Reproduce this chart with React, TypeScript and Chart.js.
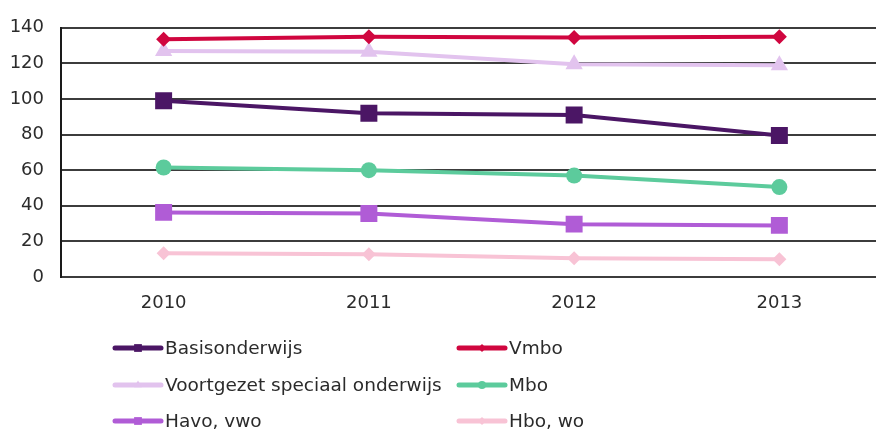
import React, { useEffect, useRef } from "react";
import { Chart, registerables } from "chart.js";

Chart.register(...registerables);

const years = ["2010", "2011", "2012", "2013"];
const seriesNames = [
  "Basisonderwijs",
  "Vmbo",
  "Voortgezet speciaal onderwijs",
  "Mbo",
  "Havo, vwo",
  "Hbo, wo",
];
const basisonderwijs = [99, 92, 91, 79.5];
const vmbo = [133.5, 135, 134.5, 135];
const vso = [127, 126.5, 119.5, 119];
const mbo = [61.5, 60, 57, 50.5];
const havoVwo = [36.3, 35.7, 29.7, 29];
const hboWo = [13.4, 12.8, 10.5, 10];
const yTicks = [0, 20, 40, 60, 80, 100, 120, 140];

const colors = ["#4B1665", "#D0063F", "#E2C3EE", "#5CCB9C", "#B05CD6", "#F8C3D5"];
const shapes = ["rect", "rectRot", "triangle", "circle", "rect", "rectRot"];
const radii = [12, 7.5, 10, 8, 12, 7];
const legendRadii = [5.5, 4, 4.5, 4, 5.5, 4];

const FONT = "'DejaVu Sans', Verdana, sans-serif";

function drawMarker(ctx: CanvasRenderingContext2D, shape: string, x: number, y: number, r: number) {
  ctx.beginPath();
  if (shape === "rect") {
    const s = r * Math.SQRT1_2;
    ctx.rect(x - s, y - s, 2 * s, 2 * s);
  } else if (shape === "rectRot") {
    ctx.moveTo(x, y - r);
    ctx.lineTo(x + r, y);
    ctx.lineTo(x, y + r);
    ctx.lineTo(x - r, y);
    ctx.closePath();
  } else if (shape === "triangle") {
    ctx.moveTo(x, y - r);
    ctx.lineTo(x + r * 0.866, y + r * 0.5);
    ctx.lineTo(x - r * 0.866, y + r * 0.5);
    ctx.closePath();
  } else {
    ctx.arc(x, y, r, 0, Math.PI * 2);
  }
  ctx.fill();
}

const legendPlugin = {
  id: "customLegend",
  afterDraw(chart: any) {
    const ctx: CanvasRenderingContext2D = chart.ctx;
    const cols = [113, 457];
    const rows = [348, 385, 421];
    ctx.save();
    ctx.font = `18.5px ${FONT}`;
    ctx.textBaseline = "middle";
    ctx.textAlign = "left";
    chart.data.datasets.forEach((ds: any, i: number) => {
      const x = cols[i % 2];
      const y = rows[Math.floor(i / 2)];
      ctx.strokeStyle = ds.borderColor;
      ctx.lineWidth = 5;
      ctx.lineCap = "round";
      ctx.beginPath();
      ctx.moveTo(x + 2, y);
      ctx.lineTo(x + 48, y);
      ctx.stroke();
      ctx.fillStyle = ds.borderColor;
      drawMarker(ctx, shapes[i], x + 25, y, legendRadii[i]);
      ctx.fillStyle = "#2b2b2b";
      ctx.fillText(ds.label, x + 52, y + 1);
    });
    ctx.restore();
  },
};

export default function App() {
  const canvasRef = useRef<HTMLCanvasElement | null>(null);

  useEffect(() => {
    const canvas = canvasRef.current;
    if (!canvas) return;
    const values = [basisonderwijs, vmbo, vso, mbo, havoVwo, hboWo];
    const chart = new Chart(canvas, {
      type: "line",
      data: {
        labels: years,
        datasets: seriesNames.map((name, i) => ({
          label: name,
          data: values[i],
          borderColor: colors[i],
          backgroundColor: colors[i],
          pointBackgroundColor: colors[i],
          pointBorderColor: colors[i],
          pointBorderWidth: 0,
          pointStyle: shapes[i] as any,
          pointRadius: radii[i],
          borderWidth: 4,
          tension: 0,
          fill: false,
        })),
      },
      options: {
        responsive: false,
        animation: false,
        devicePixelRatio: 1,
        layout: { padding: { top: 22, right: 0, bottom: 115, left: 0 } },
        plugins: {
          legend: { display: false },
          tooltip: { enabled: false },
        },
        scales: {
          x: {
            type: "category",
            offset: true,
            grid: { display: false, drawTicks: false },
            border: { display: false },
            ticks: {
              color: "#2b2b2b",
              font: { family: FONT, size: 18 },
              padding: 16,
              maxRotation: 0,
            },
            afterFit: (scale: any) => {
              scale.height = 40;
            },
          },
          y: {
            min: 0,
            max: 140,
            afterBuildTicks: (scale: any) => {
              scale.ticks = yTicks.map((v) => ({ value: v }));
            },
            grid: { color: "#3c3c3c", lineWidth: 2, drawTicks: false },
            border: { display: true, color: "#1a1a1a", width: 2 },
            ticks: {
              color: "#2b2b2b",
              font: { family: FONT, size: 18 },
              padding: 17,
            },
            afterFit: (scale: any) => {
              scale.width = 61;
            },
          },
        },
      },
      plugins: [legendPlugin],
    });
    return () => chart.destroy();
  }, []);

  return (
    <div
      style={{
        position: "fixed",
        left: 0,
        top: 0,
        width: 876,
        height: 432,
        overflow: "hidden",
        background: "#ffffff",
      }}
    >
      <canvas ref={canvasRef} width={894} height={432} style={{ width: 894, height: 432, display: "block" }} />
    </div>
  );
}
